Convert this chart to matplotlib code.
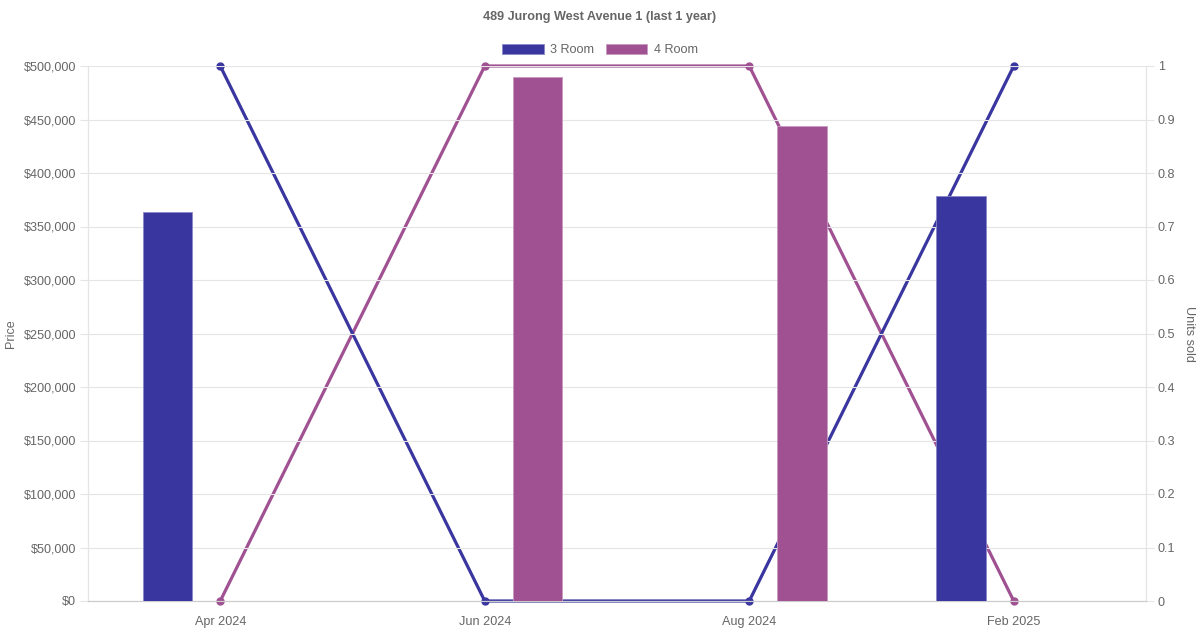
"""489 Jurong West Avenue 1: price bars and units sold lines by month."""

import matplotlib

matplotlib.use("Agg")
import matplotlib.pyplot as plt
import numpy as np

months = ["Apr 2024", "Jun 2024", "Aug 2024", "Feb 2025"]
price_3room = [364000, np.nan, np.nan, 378500]
price_4room = [np.nan, 490000, 444000, np.nan]
units_3room = [1, 0, 0, 1]
units_4room = [0, 1, 1, 0]

C3 = "#3a36a0"
C4 = "#a05192"
TXT = "#666666"
GRID = "#e5e5e5"

plt.rcParams["font.family"] = ["Liberation Sans", "DejaVu Sans"]

fig = plt.figure(figsize=(12, 6.3), dpi=100)
ax = fig.add_axes([88 / 1200, 29 / 630, (1146 - 88) / 1200, (601 - 66) / 630])
ax2 = ax.twinx()

x = np.arange(len(months))
ax2.plot(x, units_4room, color=C4, lw=2.3, marker="o", ms=5, clip_on=False, zorder=3)
ax2.plot(x, units_3room, color=C3, lw=2.3, marker="o", ms=5, clip_on=False, zorder=3)

bw = 0.187
ax.bar(x - 0.2, price_3room, width=bw, color=C3, edgecolor="#8a88c8", linewidth=0.6, label="3 Room", zorder=3)
ax.bar(x + 0.2, price_4room, width=bw, color=C4, edgecolor="#c79abf", linewidth=0.6, label="4 Room", zorder=3)

# bars sit above the lines
ax.set_zorder(ax2.get_zorder() + 1)
ax.patch.set_visible(False)

ax.set_xlim(-0.5, len(months) - 0.5)
ax.set_ylim(0, 500000)
ax2.set_ylim(0, 1)
ax.set_xticks(x)
ax.set_xticklabels(months)
ax.set_yticks(np.arange(0, 500001, 50000))
ax.set_yticklabels([f"${v:,.0f}" for v in np.arange(0, 500001, 50000)])
ax2.set_yticks(np.round(np.arange(0, 1.01, 0.1), 1))
ax2.set_yticklabels(["0"] + [f"{v:.1f}" for v in np.arange(0.1, 1.0, 0.1)] + ["1"])

ax.grid(axis="y", color=GRID, lw=0.8)
ax.set_axisbelow(True)
ax.tick_params(axis="y", length=6, color=GRID, labelcolor=TXT, labelsize=9.1, pad=2.5)
ax.tick_params(axis="x", length=0, labelcolor=TXT, labelsize=9.1, pad=11)
ax2.tick_params(axis="y", length=6, color=GRID, labelcolor=TXT, labelsize=9.1, pad=2.5)

for a in (ax, ax2):
    a.spines["top"].set_visible(False)
    a.spines["left"].set_color(GRID)
    a.spines["right"].set_color(GRID)
    a.spines["bottom"].set_color("#cccccc")

fig.text(11 / 1200, 1 - 334 / 630, "Price", rotation=90, ha="center", va="center",
         color=TXT, fontsize=9.1)
fig.text(1189 / 1200, 1 - 334 / 630, "Units sold", rotation=270, ha="center", va="center",
         color=TXT, fontsize=9.1)

fig.text(0.5, 1 - 17 / 630, "489 Jurong West Avenue 1 (last 1 year)", ha="center", va="center",
         color=TXT, fontsize=9.1, fontweight="bold")
fig.legend(loc="center", bbox_to_anchor=(0.5, 1 - 50 / 630), ncol=2, frameon=False,
           handlelength=3.3, handleheight=0.9, handletextpad=0.5, columnspacing=0.9,
           fontsize=9.1, labelcolor=TXT)

fig.savefig("out.png", dpi=100)
